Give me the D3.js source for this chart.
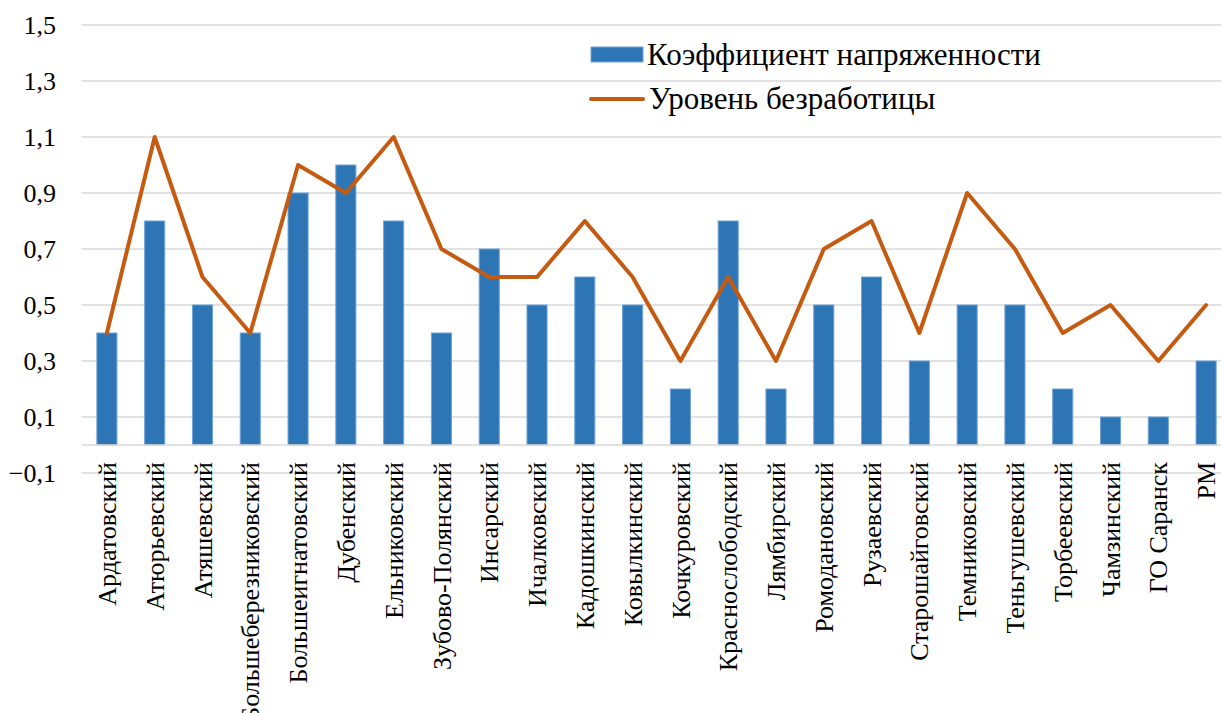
<!DOCTYPE html>
<html>
<head>
<meta charset="utf-8">
<script src="https://cdn.jsdelivr.net/npm/d3@7/dist/d3.min.js"></script>
<style>
  svg text, text { font-family: 'Liberation Serif', 'Times New Roman', Tinos, serif !important; }
</style>
</head>
<body style="margin:0">
<script>
var districts = ["Ардатовский", "Атюрьевский", "Атяшевский", "Большеберезниковский", "Большеигнатовский",
  "Дубенский", "Ельниковский", "Зубово-Полянский", "Инсарский", "Ичалковский", "Кадошкинский",
  "Ковылкинский", "Кочкуровский", "Краснослободский", "Лямбирский", "Ромодановский", "Рузаевский",
  "Старошайговский", "Темниковский", "Теньгушевский", "Торбеевский", "Чамзинский", "ГО Саранск", "РМ"];
var tension = [0.4, 0.8, 0.5, 0.4, 0.9, 1.0, 0.8, 0.4, 0.7, 0.5, 0.6, 0.5, 0.2, 0.8, 0.2, 0.5, 0.6, 0.3, 0.5, 0.5, 0.2, 0.1, 0.1, 0.3];
var unemployment = [0.4, 1.1, 0.6, 0.4, 1.0, 0.9, 1.1, 0.7, 0.6, 0.6, 0.8, 0.6, 0.3, 0.6, 0.3, 0.7, 0.8, 0.4, 0.9, 0.7, 0.4, 0.5, 0.3, 0.5];
var yTicks = [-0.1, 0.1, 0.3, 0.5, 0.7, 0.9, 1.1, 1.3, 1.5];
var seriesNames = ["Коэффициент напряженности", "Уровень безработицы"];

var width = 1221, height = 713;
var barColor = "#2E75B6", lineColor = "#C55A11";
var fontName = "'Liberation Serif'";

var svg = d3.select("body").append("svg").attr("width", width).attr("height", height);

var x = d3.scaleBand().domain(districts).range([83, 1230]).paddingInner(0.58).paddingOuter(0.29);
var y = d3.scaleLinear().domain([-0.1, 1.5]).range([473, 25]);
var fmt = function (d) { return d3.format(".1f")(d).replace(".", ","); };

// gridlines
svg.append("g").selectAll("line").data(yTicks).enter().append("line")
  .attr("x1", 82).attr("x2", width)
  .attr("y1", function (d) { return y(d); }).attr("y2", function (d) { return y(d); })
  .attr("stroke", "#d9d9d9").attr("stroke-width", 1.3);

// y axis labels
var yAxis = d3.axisLeft(y).tickValues(yTicks).tickFormat(fmt).tickSize(0).tickPadding(0);
var ya = svg.append("g").attr("transform", "translate(56,0)").call(yAxis);
ya.select(".domain").remove();
ya.attr("font-family", null).attr("font-size", null);
ya.selectAll("text").style("font-family", fontName).style("font-size", "26px").attr("fill", "#000");

// bars
svg.append("g").selectAll("rect").data(tension).enter().append("rect")
  .attr("x", function (d, i) { return x(districts[i]); })
  .attr("y", function (d) { return y(d); })
  .attr("width", x.bandwidth())
  .attr("height", function (d) { return y(0) - y(d); })
  .attr("fill", barColor).attr("stroke", "#6FA3D8").attr("stroke-width", 1);

// horizontal axis line at 0
svg.append("line").attr("x1", 82).attr("x2", width).attr("y1", y(0)).attr("y2", y(0))
  .attr("stroke", "#d9d9d9").attr("stroke-width", 1.5);

// unemployment line
var line = d3.line()
  .x(function (d, i) { return x(districts[i]) + x.bandwidth() / 2; })
  .y(function (d) { return y(d); });
svg.append("path").datum(unemployment).attr("d", line)
  .attr("fill", "none").attr("stroke", lineColor).attr("stroke-width", 4)
  .attr("stroke-linejoin", "round").attr("stroke-linecap", "round");

// category labels
var xAxis = d3.axisBottom(x).tickSize(0).tickPadding(0);
var xa = svg.append("g").attr("transform", "translate(0," + y(0) + ")").call(xAxis);
xa.select(".domain").remove();
xa.attr("font-family", null).attr("font-size", null);
xa.selectAll("text")
  .style("font-family", fontName).style("font-size", "26px").attr("fill", "#000")
  .attr("transform", "rotate(-90)")
  .attr("text-anchor", "end")
  .attr("x", -17).attr("y", 0).attr("dy", "0.35em");

// legend
var lg = svg.append("g");
lg.append("rect").attr("x", 591).attr("y", 47).attr("width", 52).attr("height", 15)
  .attr("fill", barColor).attr("stroke", "#6FA3D8");
lg.append("text").attr("x", 647).attr("y", 65)
  .style("font-family", fontName).style("font-size", "31px").text(seriesNames[0]);
lg.append("line").attr("x1", 591).attr("x2", 643).attr("y1", 99).attr("y2", 99)
  .attr("stroke", lineColor).attr("stroke-width", 4).attr("stroke-linecap", "round");
lg.append("text").attr("x", 649).attr("y", 109)
  .style("font-family", fontName).style("font-size", "31px").text(seriesNames[1]);
</script>
</body>
</html>
